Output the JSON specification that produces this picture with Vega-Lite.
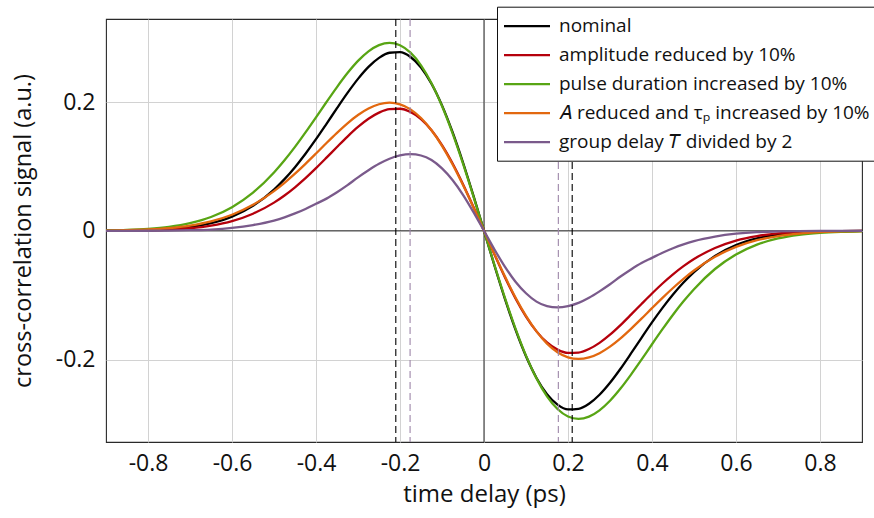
{
  "$schema": "https://vega.github.io/schema/vega-lite/v6.json",
  "autosize": {"type": "none"},
  "width": 756,
  "height": 423,
  "padding": {"left": 106, "top": 19, "right": 12, "bottom": 76},
  "background": "white",
  "config": {
    "font": "Open Sans",
    "view": {"stroke": "#2a2a2a", "strokeWidth": 1.1},
    "axis": {
      "grid": true, "gridColor": "#d2d2d2", "gridWidth": 1,
      "domain": false, "ticks": false,
      "labelFont": "Open Sans", "labelFontSize": 23, "labelColor": "#111111",
      "titleFont": "Open Sans", "titleFontSize": 24, "titleFontWeight": "normal", "titleColor": "#111111"
    }
  },
  "layer": [
    {
      "data": {"values": [{"v": 0}]},
      "mark": {"type": "rule", "color": "#333333", "strokeWidth": 1.1},
      "encoding": {"y": {"field": "v", "type": "quantitative"}}
    },
    {
      "data": {"values": [{"t": 0}]},
      "mark": {"type": "rule", "color": "#3a3a3a", "strokeWidth": 1.1},
      "encoding": {"x": {"field": "t", "type": "quantitative"}}
    },
    {
      "data": {"values": [
        {"t":-0.9,"n":0.0002,"a":0.0001,"p":0.0007,"o":0.0004,"g":0},
        {"t":-0.85,"n":0.0005,"a":0.0004,"p":0.0015,"o":0.0010,"g":0},
        {"t":-0.8,"n":0.0012,"a":0.0008,"p":0.0031,"o":0.0021,"g":0.0001},
        {"t":-0.75,"n":0.0028,"a":0.0019,"p":0.0062,"o":0.0042,"g":0.0004},
        {"t":-0.7,"n":0.0059,"a":0.0040,"p":0.0119,"o":0.0081,"g":0.001},
        {"t":-0.65,"n":0.0118,"a":0.0081,"p":0.0214,"o":0.0146,"g":0.002},
        {"t":-0.6,"n":0.0221,"a":0.0151,"p":0.0367,"o":0.0250,"g":0.0045},
        {"t":-0.55,"n":0.0389,"a":0.0266,"p":0.0593,"o":0.0404,"g":0.009},
        {"t":-0.5,"n":0.0641,"a":0.0438,"p":0.0906,"o":0.0617,"g":0.016},
        {"t":-0.475,"n":0.0803,"a":0.0549,"p":0.1095,"o":0.0746,"g":0.021},
        {"t":-0.45,"n":0.0989,"a":0.0676,"p":0.1303,"o":0.0888,"g":0.027},
        {"t":-0.425,"n":0.1197,"a":0.0818,"p":0.1528,"o":0.1041,"g":0.034},
        {"t":-0.4,"n":0.1423,"a":0.0973,"p":0.1762,"o":0.1201,"g":0.042},
        {"t":-0.375,"n":0.1662,"a":0.1136,"p":0.2001,"o":0.1364,"g":0.050},
        {"t":-0.35,"n":0.1905,"a":0.1302,"p":0.2233,"o":0.1522,"g":0.060},
        {"t":-0.325,"n":0.2142,"a":0.1464,"p":0.2450,"o":0.1670,"g":0.071},
        {"t":-0.3,"n":0.2360,"a":0.1613,"p":0.2639,"o":0.1799,"g":0.083},
        {"t":-0.275,"n":0.2546,"a":0.1740,"p":0.2788,"o":0.1900,"g":0.094},
        {"t":-0.25,"n":0.2686,"a":0.1836,"p":0.2885,"o":0.1966,"g":0.104},
        {"t":-0.225,"n":0.2766,"a":0.1891,"p":0.2920,"o":0.1990,"g":0.112},
        {"t":-0.2,"n":0.2774,"a":0.1896,"p":0.2883,"o":0.1965,"g":0.117},
        {"t":-0.175,"n":0.2699,"a":0.1845,"p":0.2767,"o":0.1886,"g":0.119},
        {"t":-0.15,"n":0.2537,"a":0.1734,"p":0.2570,"o":0.1752,"g":0.117},
        {"t":-0.125,"n":0.2285,"a":0.1562,"p":0.2292,"o":0.1562,"g":0.110},
        {"t":-0.1,"n":0.1949,"a":0.1332,"p":0.1938,"o":0.1321,"g":0.097},
        {"t":-0.075,"n":0.1536,"a":0.1050,"p":0.1518,"o":0.1035,"g":0.079},
        {"t":-0.05,"n":0.1061,"a":0.0725,"p":0.1044,"o":0.0711,"g":0.056},
        {"t":-0.025,"n":0.0542,"a":0.0370,"p":0.0532,"o":0.0362,"g":0.029},
        {"t":0,"n":0,"a":0,"p":0,"o":0,"g":0},
        {"t":0.025,"n":-0.0542,"a":-0.0370,"p":-0.0532,"o":-0.0362,"g":-0.029},
        {"t":0.05,"n":-0.1061,"a":-0.0725,"p":-0.1044,"o":-0.0711,"g":-0.056},
        {"t":0.075,"n":-0.1536,"a":-0.1050,"p":-0.1518,"o":-0.1035,"g":-0.079},
        {"t":0.1,"n":-0.1949,"a":-0.1332,"p":-0.1938,"o":-0.1321,"g":-0.097},
        {"t":0.125,"n":-0.2285,"a":-0.1562,"p":-0.2292,"o":-0.1562,"g":-0.110},
        {"t":0.15,"n":-0.2537,"a":-0.1734,"p":-0.2570,"o":-0.1752,"g":-0.117},
        {"t":0.175,"n":-0.2699,"a":-0.1845,"p":-0.2767,"o":-0.1886,"g":-0.119},
        {"t":0.2,"n":-0.2774,"a":-0.1896,"p":-0.2883,"o":-0.1965,"g":-0.117},
        {"t":0.225,"n":-0.2766,"a":-0.1891,"p":-0.2920,"o":-0.1990,"g":-0.112},
        {"t":0.25,"n":-0.2686,"a":-0.1836,"p":-0.2885,"o":-0.1966,"g":-0.104},
        {"t":0.275,"n":-0.2546,"a":-0.1740,"p":-0.2788,"o":-0.1900,"g":-0.094},
        {"t":0.3,"n":-0.2360,"a":-0.1613,"p":-0.2639,"o":-0.1799,"g":-0.083},
        {"t":0.325,"n":-0.2142,"a":-0.1464,"p":-0.2450,"o":-0.1670,"g":-0.071},
        {"t":0.35,"n":-0.1905,"a":-0.1302,"p":-0.2233,"o":-0.1522,"g":-0.060},
        {"t":0.375,"n":-0.1662,"a":-0.1136,"p":-0.2001,"o":-0.1364,"g":-0.050},
        {"t":0.4,"n":-0.1423,"a":-0.0973,"p":-0.1762,"o":-0.1201,"g":-0.042},
        {"t":0.425,"n":-0.1197,"a":-0.0818,"p":-0.1528,"o":-0.1041,"g":-0.034},
        {"t":0.45,"n":-0.0989,"a":-0.0676,"p":-0.1303,"o":-0.0888,"g":-0.027},
        {"t":0.475,"n":-0.0803,"a":-0.0549,"p":-0.1095,"o":-0.0746,"g":-0.021},
        {"t":0.5,"n":-0.0641,"a":-0.0438,"p":-0.0906,"o":-0.0617,"g":-0.016},
        {"t":0.55,"n":-0.0389,"a":-0.0266,"p":-0.0593,"o":-0.0404,"g":-0.009},
        {"t":0.6,"n":-0.0221,"a":-0.0151,"p":-0.0367,"o":-0.0250,"g":-0.0045},
        {"t":0.65,"n":-0.0118,"a":-0.0081,"p":-0.0214,"o":-0.0146,"g":-0.002},
        {"t":0.7,"n":-0.0059,"a":-0.0040,"p":-0.0119,"o":-0.0081,"g":-0.001},
        {"t":0.75,"n":-0.0028,"a":-0.0019,"p":-0.0062,"o":-0.0042,"g":-0.0004},
        {"t":0.8,"n":-0.0012,"a":-0.0008,"p":-0.0031,"o":-0.0021,"g":-0.0001},
        {"t":0.85,"n":-0.0005,"a":-0.0004,"p":-0.0015,"o":-0.0010,"g":0},
        {"t":0.9,"n":-0.0002,"a":-0.0001,"p":-0.0007,"o":-0.0004,"g":0}
      ]},
      "transform": [{"fold": ["n", "a", "p", "o", "g"], "as": ["s", "v"]}],
      "mark": {"type": "line", "strokeWidth": 2.3, "interpolate": "monotone", "clip": true},
      "encoding": {
        "x": {
          "field": "t", "type": "quantitative",
          "scale": {"domain": [-0.9, 0.9], "nice": false, "zero": false},
          "axis": {
            "title": "time delay (ps)",
            "values": [-0.8, -0.6, -0.4, -0.2, 0, 0.2, 0.4, 0.6, 0.8],
            "labelExpr": "datum.value == 0 ? '0' : (datum.value < 0 ? '-' : '') + format(abs(datum.value), '.1f')",
            "labelPadding": 10, "titlePadding": 7
          }
        },
        "y": {
          "field": "v", "type": "quantitative",
          "scale": {"domain": [-0.328, 0.329], "nice": false, "zero": false},
          "axis": {
            "title": "cross-correlation signal (a.u.)",
            "titleFontSize": 23.5,
            "values": [-0.2, 0, 0.2],
            "labelExpr": "datum.value == 0 ? '0' : (datum.value < 0 ? '-' : '') + format(abs(datum.value), '.1f')",
            "labelPadding": 11, "titlePadding": 20
          }
        },
        "color": {
          "field": "s", "type": "nominal",
          "scale": {"domain": ["n", "a", "p", "o", "g"], "range": ["#000000", "#b5000c", "#58a514", "#e2680f", "#7a5a8b"]},
          "legend": {
            "title": null, "orient": "none", "legendX": 391, "legendY": -12.3,
            "labelExpr": "datum.value == 'n' ? 'nominal' : datum.value == 'a' ? 'amplitude reduced by 10%' : datum.value == 'p' ? 'pulse duration increased by 10%' : datum.value == 'o' ? '𝐴 reduced and τₚ increased by 10%' : 'group delay 𝑇 divided by 2'",
            "symbolType": "M-1.25,0H3.35", "symbolSize": 400, "symbolStrokeWidth": 2.3,
            "labelFont": "Open Sans", "labelFontSize": 19, "labelColor": "#111111", "labelLimit": 600, "labelOffset": 31,
            "rowPadding": 7, "padding": 8,
            "fillColor": "white", "strokeColor": "#111111"
          }
        }
      }
    },
    {
      "data": {"values": [{"t": -0.21}, {"t": 0.21}]},
      "mark": {"type": "rule", "color": "#000000", "strokeDash": [7, 4], "strokeWidth": 1.1},
      "encoding": {"x": {"field": "t", "type": "quantitative"}}
    },
    {
      "data": {"values": [{"t": -0.176}, {"t": 0.177}]},
      "mark": {"type": "rule", "color": "#9d86a8", "strokeDash": [7, 4], "strokeWidth": 1.1},
      "encoding": {"x": {"field": "t", "type": "quantitative"}}
    }
  ]
}
